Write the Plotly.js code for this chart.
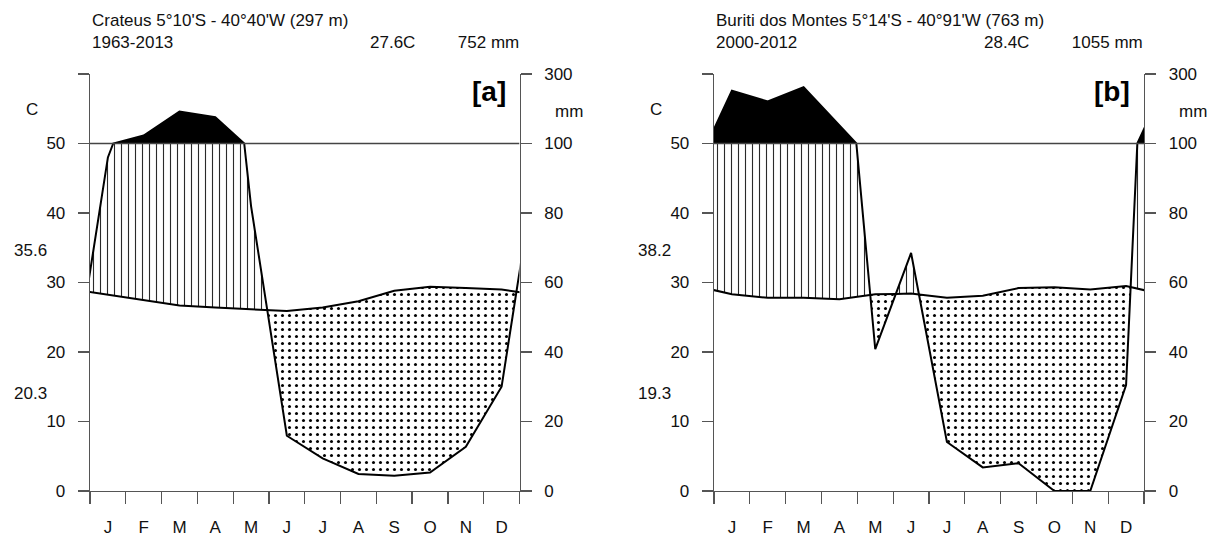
<!DOCTYPE html>
<html>
<head>
<meta charset="utf-8">
<script src="https://cdn.plot.ly/plotly-3.0.1.min.js"></script>
<style>html,body{margin:0;padding:0;background:#fff;}#chart{width:1217px;height:536px;}</style>
</head>
<body>
<div id="chart"></div>
<script>
// ---------------- data ----------------
const monthLabels = ["J","F","M","A","M","J","J","A","S","O","N","D"];

// Panel [a] Crateus
const tempA = [28.2, 27.4, 26.7, 26.4, 26.2, 25.9, 26.4, 27.3, 28.8, 29.4, 29.2, 29.0];
const precA = [96, 123, 192, 176, 82, 15.9, 9.4, 4.9, 4.4, 5.3, 12.7, 30.0];
const headA = ["Crateus 5°10'S - 40°40'W (297 m)", "1963-2013", "27.6C", "752 mm", "[a]"];
const extremesA = ["35.6", "20.3"];

// Panel [b] Buriti dos Montes
const tempB = [28.3, 27.8, 27.8, 27.6, 28.3, 28.4, 27.8, 28.1, 29.2, 29.3, 29.0, 29.5];
const precB = [252, 221, 262, 153, 40.8, 68.5, 14.1, 6.8, 8.0, 0, 0, 30.5];
const headB = ["Buriti dos Montes 5°14'S - 40°91'W (763 m)", "2000-2012", "28.4C", "1055 mm", "[b]"];
const extremesB = ["38.2", "19.3"];

const leftTicks = ["0","10","20","30","40","50",""];
const rightTicks = ["0","20","40","60","80","100","300"];

// ---------------- geometry helpers ----------------
const scaleP = p => p <= 100 ? p / 2 : 50 + (p - 100) / 20;

function buildSeries(T, P) {
  const xs = [-0.5], Te = [T[11]], Pe = [P[11]];
  for (let i = 0; i < 12; i++) { xs.push(i + 0.5); Te.push(T[i]); Pe.push(P[i]); }
  xs.push(12.5); Te.push(T[0]); Pe.push(P[0]);
  const X = [], TT = [], SS = [];
  for (let i = 0; i < xs.length - 1; i++) {
    const x0 = xs[i], x1 = xs[i+1], T0 = Te[i], T1 = Te[i+1], P0 = Pe[i], P1 = Pe[i+1];
    let fr = [0, 1];
    if ((P0 - 100) * (P1 - 100) < 0) fr.push((100 - P0) / (P1 - P0));
    fr.sort((a, b) => a - b);
    const extra = [];
    for (let k = 0; k < fr.length - 1; k++) {
      const a = fr[k], b = fr[k+1];
      const sa = scaleP(P0 + (P1 - P0) * a), sb = scaleP(P0 + (P1 - P0) * b);
      const ta = T0 + (T1 - T0) * a, tb = T0 + (T1 - T0) * b;
      const da = sa - ta, db = sb - tb;
      if (da * db < 0) extra.push(a + (b - a) * da / (da - db));
    }
    fr = fr.concat(extra).sort((a, b) => a - b);
    const last = (i === xs.length - 2);
    fr.forEach(f => {
      if (f === 1 && !last) return;
      X.push(x0 + (x1 - x0) * f);
      TT.push(T0 + (T1 - T0) * f);
      SS.push(scaleP(P0 + (P1 - P0) * f));
    });
  }
  return {X, T: TT, S: SS};
}

function panelTraces(T, P, xa, ya, ya2) {
  const d = buildSeries(T, P);
  const none = {width: 0, color: 'rgba(0,0,0,0)'};
  const base = {type: 'scatter', mode: 'lines', xaxis: xa, yaxis: ya, hoverinfo: 'skip', showlegend: false};
  const humidTop = d.T.map((t, i) => Math.max(t, Math.min(d.S[i], 50)));
  const dryBot = d.T.map((t, i) => Math.min(t, d.S[i]));
  const wetTop = d.S.map(s => Math.max(s, 50));
  const fifty = d.X.map(() => 50);
  return [
    Object.assign({}, base, {x: d.X, y: d.T, line: none}),
    Object.assign({}, base, {x: d.X, y: humidTop, line: none, fill: 'tonexty', fillcolor: 'rgba(0,0,0,0)',
      fillpattern: {shape: '|', size: 7, solidity: 0.16, fgcolor: '#2a2a2a', bgcolor: 'rgba(0,0,0,0)'}}),
    Object.assign({}, base, {x: d.X, y: d.T, line: none}),
    Object.assign({}, base, {x: d.X, y: dryBot, line: none, fill: 'tonexty', fillcolor: 'rgba(0,0,0,0)',
      fillpattern: {shape: '.', size: 7, solidity: 0.15, fgcolor: '#000', bgcolor: 'rgba(0,0,0,0)'}}),
    Object.assign({}, base, {x: d.X, y: fifty, line: none}),
    Object.assign({}, base, {x: d.X, y: wetTop, line: none, fill: 'tonexty', fillcolor: '#000'}),
    Object.assign({}, base, {x: d.X, y: d.T, line: {color: '#000', width: 2}}),
    Object.assign({}, base, {x: d.X, y: d.S, line: {color: '#000', width: 2}}),
    Object.assign({}, base, {x: [0], y: [0], yaxis: ya2, line: none})
  ];
}

const traces = [].concat(
  panelTraces(tempA, precA, 'x', 'y', 'y2'),
  panelTraces(tempB, precB, 'x2', 'y3', 'y4')
);

// ---------------- layout ----------------
const W = 1217, H = 536;
const px = v => v / W, py = v => 1 - v / H;
const FONT = 'Liberation Sans, Arial, sans-serif';
const AX = '#555';
const yDom = [py(491), py(74)];

function xAxis(dom, anchor) {
  return {domain: dom, anchor: anchor, range: [0, 12], showgrid: false, zeroline: false,
    showline: true, linecolor: AX, linewidth: 1.3,
    tickmode: 'array', tickvals: monthLabels.map((m, i) => i + 0.5), ticktext: monthLabels,
    ticks: 'outside', ticklen: 20, tickcolor: 'rgba(0,0,0,0)',
    tickfont: {family: FONT, size: 17, color: '#111'},
    minor: {tickmode: 'array', tickvals: [0,1,2,3,4,5,6,7,8,9,10,11,12], ticks: 'outside', ticklen: 12, tickcolor: AX, tickwidth: 1.3, showgrid: false}};
}
function yAxis(anchor, side, texts, overlay, standoff) {
  const a = {domain: yDom, anchor: anchor, side: side, range: [0, 60], showgrid: false, zeroline: false,
    showline: true, linecolor: AX, linewidth: 1.3,
    tickmode: 'array', tickvals: [0,10,20,30,40,50,60], ticktext: texts,
    ticks: 'outside', ticklen: 11, tickcolor: AX, tickwidth: 1.3,
    ticklabelstandoff: standoff,
    tickfont: {family: FONT, size: 17, color: '#111'}};
  if (overlay) a.overlaying = overlay;
  return a;
}

const annotations = [];
function panelAnn(head, ext, left, right) {
  const t = (text, x, y, xa, extra) => annotations.push(Object.assign({text: text, x: px(x), y: py(y), xref: 'paper', yref: 'paper',
    xanchor: xa, yanchor: 'middle', showarrow: false, font: {family: FONT, size: 17, color: '#111'}}, extra || {}));
  t(head[0], left, 20, 'left');
  t(head[1], left, 42, 'left');
  t(head[2] + '\u00a0\u00a0\u00a0\u00a0\u00a0\u00a0\u00a0\u00a0\u00a0' + head[3], right + 1, 42, 'right');
  t('<b>' + head[4] + '</b>', right - 12, 91, 'right', {font: {family: FONT, size: 28, color: '#000'}});
  t('C', left - 58, 110, 'center');
  t('mm', right + 49, 112, 'center');
  t(ext[0], left - 60, 250, 'center');
  t(ext[1], left - 60, 393, 'center');
}
panelAnn(headA, extremesA, 90, 519.5);
panelAnn(headB, extremesB, 714, 1144);

const shapes = [
  {type: 'line', xref: 'x', yref: 'y', x0: 0, x1: 12, y0: 50, y1: 50, line: {color: '#444', width: 1.3}, layer: 'above'},
  {type: 'line', xref: 'x2', yref: 'y3', x0: 0, x1: 12, y0: 50, y1: 50, line: {color: '#444', width: 1.3}, layer: 'above'}
];

const layout = {
  width: W, height: H,
  margin: {l: 0, r: 0, t: 0, b: 0},
  paper_bgcolor: '#fff', plot_bgcolor: 'rgba(0,0,0,0)',
  showlegend: false,
  font: {family: FONT, size: 17, color: '#111'},
  xaxis: xAxis([px(90), px(519.5)], 'y'),
  xaxis2: xAxis([px(714), px(1144)], 'y3'),
  yaxis: yAxis('x', 'left', leftTicks, null, 9),
  yaxis2: yAxis('x', 'right', rightTicks, 'y', 9),
  yaxis3: yAxis('x2', 'left', leftTicks, null, 9),
  yaxis4: yAxis('x2', 'right', rightTicks, 'y3', 9),
  annotations: annotations,
  shapes: shapes
};

Plotly.newPlot('chart', traces, layout, {staticPlot: true, displayModeBar: false});
</script>
</body>
</html>
